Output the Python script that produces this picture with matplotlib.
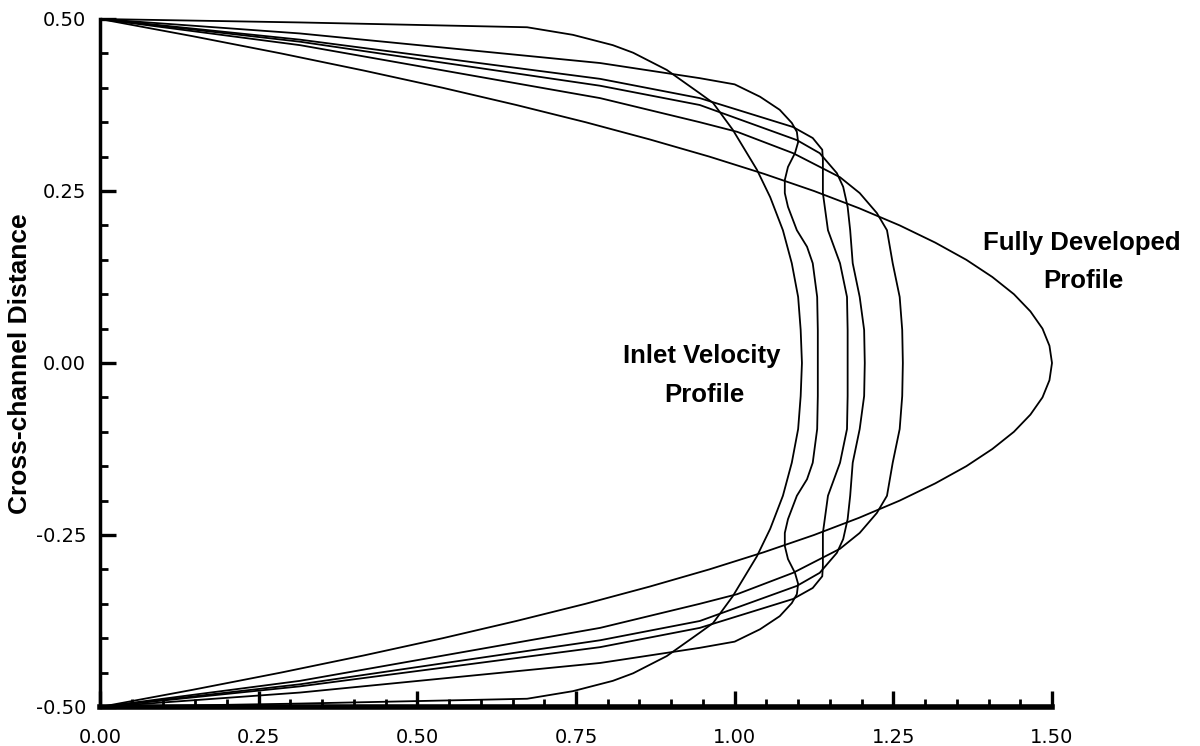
import numpy as np
import matplotlib
matplotlib.use("Agg")
import matplotlib.pyplot as plt
from matplotlib.ticker import MultipleLocator, FormatStrFormatter

# ---- data (upper half of each profile; profiles are symmetric) ----
inlet_x = [0, 0.315, 0.673, 0.745, 0.808, 0.840, 0.893, 0.945, 0.966, 0.997, 1.035, 1.056, 1.076, 1.090, 1.100, 1.104, 1.106]
inlet_y = [0.5, 0.495, 0.488, 0.477, 0.462, 0.451, 0.426, 0.392, 0.378, 0.339, 0.281, 0.241, 0.193, 0.145, 0.096, 0.048, 0.0]

prof_a_x = [0, 0.315, 0.788, 0.945, 1.000, 1.040, 1.071, 1.090, 1.098, 1.100, 1.095, 1.084, 1.079, 1.079, 1.084, 1.098, 1.114, 1.123, 1.130, 1.131, 1.131]
prof_a_y = [0.5, 0.479, 0.436, 0.414, 0.405, 0.387, 0.368, 0.349, 0.336, 0.321, 0.305, 0.285, 0.266, 0.247, 0.227, 0.193, 0.169, 0.145, 0.096, 0.048, 0.0]

prof_b_x = [0, 0.315, 0.788, 0.945, 1.092, 1.123, 1.138, 1.139, 1.139, 1.147, 1.166, 1.177, 1.178, 1.178]
prof_b_y = [0.5, 0.470, 0.413, 0.385, 0.343, 0.327, 0.310, 0.295, 0.247, 0.193, 0.145, 0.096, 0.048, 0.0]

prof_c_x = [0, 0.315, 0.788, 0.945, 1.098, 1.134, 1.161, 1.171, 1.178, 1.182, 1.186, 1.197, 1.204, 1.205]
prof_c_y = [0.5, 0.467, 0.403, 0.375, 0.324, 0.305, 0.276, 0.256, 0.227, 0.193, 0.145, 0.096, 0.048, 0.0]

prof_d_x = [0, 0.315, 0.788, 0.945, 1.004, 1.092, 1.166, 1.197, 1.224, 1.240, 1.249, 1.260, 1.264, 1.265]
prof_d_y = [0.5, 0.462, 0.385, 0.350, 0.336, 0.305, 0.270, 0.247, 0.218, 0.193, 0.145, 0.096, 0.048, 0.0]

full_y = [0.5, 0.475, 0.45, 0.425, 0.4, 0.375, 0.35, 0.325, 0.3, 0.275, 0.25, 0.225, 0.2,
          0.175, 0.15, 0.125, 0.1, 0.075, 0.05, 0.025, 0.0]
full_x = [0.0, 0.146, 0.285, 0.416, 0.54, 0.656, 0.765, 0.866, 0.96, 1.046, 1.125, 1.196, 1.26,
          1.316, 1.365, 1.406, 1.44, 1.466, 1.485, 1.496, 1.5]

x_ticks = [0.00, 0.25, 0.50, 0.75, 1.00, 1.25, 1.50]
y_ticks = [-0.50, -0.25, 0.00, 0.25, 0.50]


def mirror(xs, ys):
    xs = np.asarray(xs, float)
    ys = np.asarray(ys, float)
    return (np.concatenate([xs, xs[::-1][1:]]),
            np.concatenate([ys, -ys[::-1][1:]]))


fig = plt.figure(figsize=(12, 7.46), dpi=100)
ax = fig.add_axes([100 / 1200, 1 - 707 / 746, (1052 - 100) / 1200, (707 - 19) / 746])

for xs, ys in [(inlet_x, inlet_y), (prof_a_x, prof_a_y), (prof_b_x, prof_b_y),
               (prof_c_x, prof_c_y), (prof_d_x, prof_d_y), (full_x, full_y)]:
    mx, my = mirror(xs, ys)
    ax.plot(mx, my, color="black", lw=1.3, clip_on=False, solid_joinstyle="round")

ax.set_xlim(0, 1.5)
ax.set_ylim(-0.5, 0.5)
ax.set_xticks(x_ticks)
ax.set_yticks(y_ticks)
ax.xaxis.set_minor_locator(MultipleLocator(0.05))
ax.yaxis.set_minor_locator(MultipleLocator(0.05))
ax.xaxis.set_major_formatter(FormatStrFormatter("%.2f"))
ax.yaxis.set_major_formatter(FormatStrFormatter("%.2f"))

for s in ["top", "right"]:
    ax.spines[s].set_visible(False)
ax.spines["left"].set_linewidth(2.5)
ax.spines["bottom"].set_linewidth(4.0)

ax.tick_params(which="major", direction="in", length=11.5, width=2.4, labelsize=14, color="black")
ax.tick_params(which="minor", direction="in", length=6, width=2.0, color="black")
ax.tick_params(axis="y", which="major", pad=10)
ax.tick_params(axis="x", which="major", pad=15)
for lab in ax.get_xticklabels() + ax.get_yticklabels():
    lab.set_family("DejaVu Sans")

fig.text(20 / 1200, 1 - 364 / 746, "Cross-channel Distance", rotation=90,
         ha="center", va="center", fontsize=19, fontweight="bold", family="Liberation Sans")

lab_kw = dict(ha="center", va="baseline", fontsize=18.5, fontweight="bold",
              family="Liberation Sans", clip_on=False)
ax.text(0.948, 0.0, "Inlet Velocity", **lab_kw)
ax.text(0.953, -0.057, "Profile", **lab_kw)
ax.text(1.547, 0.164, "Fully Developed", **lab_kw)
ax.text(1.550, 0.109, "Profile", **lab_kw)

fig.savefig("out.png", dpi=100)
